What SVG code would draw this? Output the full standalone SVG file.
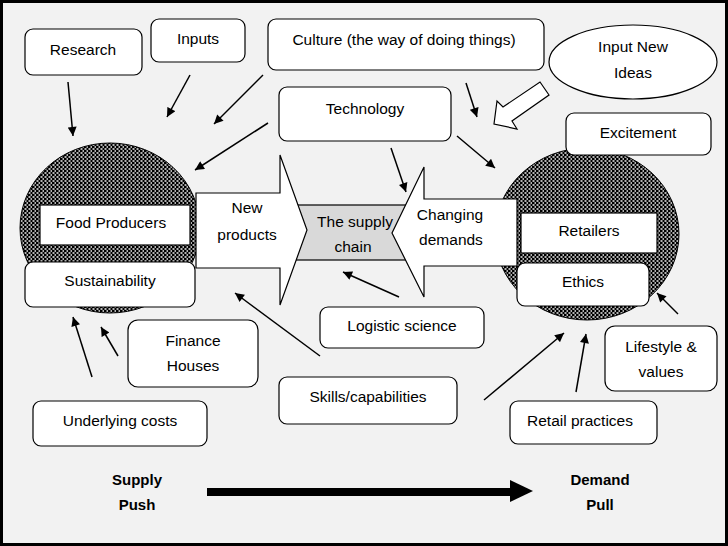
<svg xmlns="http://www.w3.org/2000/svg" width="728" height="546" viewBox="0 0 728 546">
<defs>
<pattern id="dots" width="4" height="4" patternUnits="userSpaceOnUse">
<rect width="4" height="4" fill="#000"/>
<rect x="0.5" y="0.3" width="2" height="1.4" fill="#fff"/>
<rect x="2.5" y="2.3" width="2" height="1.4" fill="#fff"/>
</pattern>
<marker id="ah" viewBox="0 0 10 10" refX="10" refY="5" markerWidth="10" markerHeight="9" markerUnits="userSpaceOnUse" orient="auto">
<path d="M0,0 L10,5 L0,10 Z" fill="#000"/>
</marker>
</defs>
<style>
text{font-family:"Liberation Sans",Arial,sans-serif;font-size:15.5px;fill:#000;text-anchor:middle}
.b{font-weight:bold;font-size:15px}
.box{fill:#fff;stroke:#000;stroke-width:1.2}
.con{stroke:#000;stroke-width:1.5;fill:none;marker-end:url(#ah)}
</style>
<rect x="1.5" y="1.5" width="725" height="543" fill="#f2f2f2" stroke="#000" stroke-width="3"/>

<g id="left-circle">
<ellipse cx="110" cy="228" rx="90" ry="85" fill="url(#dots)" stroke="#000" stroke-width="1"/>
</g>
<g id="right-circle">
<ellipse cx="587" cy="234" rx="92" ry="86" fill="url(#dots)" stroke="#000" stroke-width="1"/>
</g>

<g id="supply-chain">
<rect x="296" y="205" width="114" height="55" fill="#d9d9d9" stroke="#000" stroke-width="1.2"/>
<text x="355" y="227">The supply</text>
<text x="353" y="252">chain</text>
</g>

<g id="new-products">
<polygon points="196,193 280,193 280,155 307,230 280,305 280,268 196,268" class="box"/>
<text x="247" y="213">New</text>
<text x="247" y="240">products</text>
</g>

<g id="changing-demands">
<polygon points="517,199 424,199 424,167 392,233 424,297 424,266 517,266" class="box"/>
<text x="450" y="220">Changing</text>
<text x="451" y="245">demands</text>
</g>

<g id="food-producers">
<rect x="40" y="205" width="150" height="40" class="box"/>
<text x="111" y="228">Food Producers</text>
</g>
<g id="sustainability">
<rect x="25" y="262" width="170" height="45" rx="8" class="box"/>
<text x="110" y="286">Sustainability</text>
</g>
<g id="retailers">
<rect x="521" y="213" width="136" height="40" class="box"/>
<text x="589" y="236">Retailers</text>
</g>
<g id="ethics">
<rect x="517" y="263" width="132" height="43" rx="8" class="box"/>
<text x="583" y="287">Ethics</text>
</g>

<g id="research">
<rect x="25" y="29" width="117" height="46" rx="8" class="box"/>
<text x="83" y="55">Research</text>
</g>
<g id="inputs">
<rect x="151" y="19" width="94" height="43" rx="8" class="box"/>
<text x="198" y="44">Inputs</text>
</g>
<g id="culture">
<rect x="268" y="19" width="276" height="51" rx="8" class="box"/>
<text x="404" y="45">Culture (the way of doing things)</text>
</g>
<g id="input-new-ideas">
<ellipse cx="633" cy="62" rx="84" ry="37" class="box"/>
<text x="633" y="52">Input New</text>
<text x="633" y="78">Ideas</text>
</g>
<g id="technology">
<rect x="279" y="87" width="172" height="54" rx="8" class="box"/>
<text x="365" y="114">Technology</text>
</g>
<g id="excitement">
<rect x="566" y="113" width="145" height="42" rx="8" class="box"/>
<text x="638" y="138">Excitement</text>
</g>
<g id="logistic-science">
<rect x="320" y="307" width="164" height="41" rx="8" class="box"/>
<text x="402" y="331">Logistic science</text>
</g>
<g id="finance-houses">
<rect x="128" y="320" width="130" height="67" rx="10" class="box"/>
<text x="193" y="346">Finance</text>
<text x="193" y="371">Houses</text>
</g>
<g id="skills">
<rect x="279" y="377" width="178" height="47" rx="8" class="box"/>
<text x="368" y="402">Skills/capabilities</text>
</g>
<g id="underlying-costs">
<rect x="33" y="401" width="174" height="45" rx="8" class="box"/>
<text x="120" y="426">Underlying costs</text>
</g>
<g id="lifestyle">
<rect x="605" y="326" width="112" height="65" rx="10" class="box"/>
<text x="661" y="352">Lifestyle &amp;</text>
<text x="661" y="377">values</text>
</g>
<g id="retail-practices">
<rect x="510" y="401" width="147" height="43" rx="8" class="box"/>
<text x="580" y="426">Retail practices</text>
</g>

<g id="supply-push">
<text class="b" x="137" y="485">Supply</text>
<text class="b" x="137" y="510">Push</text>
</g>
<g id="demand-pull">
<text class="b" x="600" y="485">Demand</text>
<text class="b" x="600" y="510">Pull</text>
</g>

<g id="connectors">
<line class="con" x1="68" y1="82" x2="73" y2="136"/>
<line class="con" x1="190" y1="75" x2="167" y2="117"/>
<line class="con" x1="263" y1="75" x2="214" y2="124"/>
<line class="con" x1="268" y1="123" x2="195" y2="170"/>
<line class="con" x1="466" y1="83" x2="477" y2="117"/>
<line class="con" x1="457" y1="136" x2="495" y2="168"/>
<line class="con" x1="391" y1="148" x2="406" y2="192"/>
<line class="con" x1="320" y1="356" x2="235" y2="293"/>
<line class="con" x1="399" y1="297" x2="343" y2="272"/>
<line class="con" x1="92" y1="377" x2="73" y2="317"/>
<line class="con" x1="118" y1="356" x2="101" y2="327"/>
<line class="con" x1="484" y1="400" x2="564" y2="333"/>
<line class="con" x1="576" y1="392" x2="586" y2="334"/>
<line class="con" x1="678" y1="314" x2="657" y2="293"/>
<polygon points="494,124 497,101 503,107 540,82 549,95 512,121 517,129" fill="#fff" stroke="#000" stroke-width="1.2"/>
<line x1="207" y1="492" x2="512" y2="492" stroke="#000" stroke-width="8"/>
<polygon points="510,480 533,491 510,502" fill="#000"/>
</g>
</svg>
